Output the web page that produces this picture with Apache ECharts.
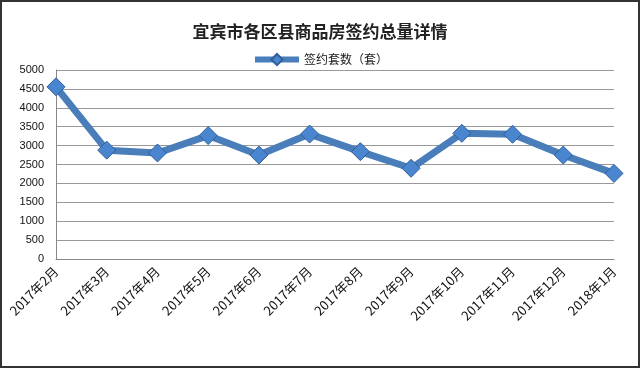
<!DOCTYPE html>
<html><head><meta charset="utf-8">
<script src="https://cdn.jsdelivr.net/npm/echarts@6/dist/echarts.min.js"></script>
<style>
html,body{margin:0;padding:0;background:#fff;}
#c{width:640px;height:368px;box-sizing:border-box;border:2px solid #333;}
</style></head><body>
<div id="c"></div>
<script>
const categories = ['2017年2月','2017年3月','2017年4月','2017年5月','2017年6月','2017年7月','2017年8月','2017年9月','2017年10月','2017年11月','2017年12月','2018年1月'];
const values = [4555, 2880, 2805, 3265, 2750, 3305, 2840, 2400, 3325, 3300, 2750, 2265];
const seriesName = '签约套数（套）';
const titleText = '宜宾市各区县商品房签约总量详情';

const chart = echarts.init(document.getElementById('c'));
chart.setOption({
  animation: false,
  title: { text: titleText, left: 'center', top: 16,
    textStyle: { fontFamily: 'Noto Sans CJK SC', fontSize: 17, fontWeight: 'bold', color: '#222' } },
  legend: { top: 46, left: 'center', itemWidth: 44, itemHeight: 14, itemGap: 4,
    lineStyle: { width: 6 },
    textStyle: { fontFamily: 'Noto Sans CJK SC', fontSize: 12, color: '#222' },
    data: [seriesName] },
  grid: { left: 54, right: 24, top: 68, bottom: 107 },
  xAxis: { type: 'category', data: categories, boundaryGap: false,
    axisLine: { lineStyle: { color: '#888', width: 1 } },
    axisTick: { show: false },
    axisLabel: { rotate: 45, fontFamily: 'Noto Sans CJK SC', fontSize: 13, color: '#111', margin: 10, interval: 0 } },
  yAxis: { type: 'value', min: 0, max: 5000, interval: 500,
    axisLine: { show: true, lineStyle: { color: '#888' } },
    axisTick: { show: false },
    splitLine: { lineStyle: { color: '#999', width: 1 } },
    axisLabel: { fontFamily: 'Liberation Sans', fontSize: 11, color: '#111', margin: 12,
      formatter: v => String(v) } },
  series: [{
    name: seriesName, type: 'line', data: values,
    symbol: 'diamond', symbolSize: 18,
    lineStyle: { color: '#4a7ebb', width: 7 },
    itemStyle: { color: '#4a86cf', borderColor: '#2f5f9a', borderWidth: 1 }
  }]
});
</script></body></html>
